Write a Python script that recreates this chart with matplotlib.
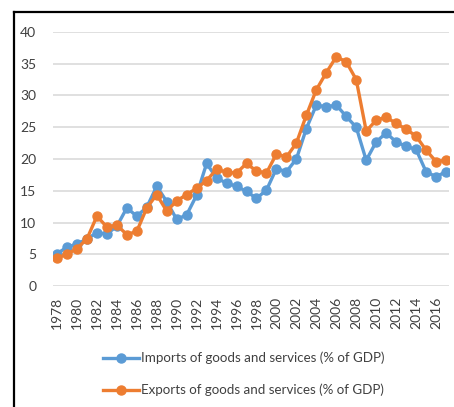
import matplotlib
matplotlib.use('Agg')
import matplotlib.pyplot as plt
from matplotlib.lines import Line2D

plt.rcParams['font.family'] = ['Lato', 'DejaVu Sans']

years = list(range(1978, 2018))
imports = [5.1, 6.1, 6.6, 7.4, 8.4, 8.2, 9.4, 12.3, 11.0, 12.4,
           15.7, 13.3, 10.5, 11.2, 14.3, 19.3, 17.0, 16.2, 15.7, 14.9,
           13.8, 15.1, 18.5, 18.0, 20.0, 24.8, 28.5, 28.2, 28.5, 26.7,
           25.0, 19.8, 22.7, 24.1, 22.7, 22.0, 21.5, 18.0, 17.2, 18.0]
exports = [4.4, 5.0, 5.9, 7.4, 11.0, 9.3, 9.6, 8.1, 8.6, 12.3,
           14.4, 11.8, 13.4, 14.4, 15.4, 16.6, 18.4, 17.9, 17.8, 19.3,
           18.1, 17.8, 20.8, 20.3, 22.5, 26.9, 30.9, 33.6, 36.1, 35.3,
           32.5, 24.4, 26.1, 26.6, 25.6, 24.7, 23.6, 21.4, 19.6, 19.8]
labels = ['Imports of goods and services (% of GDP)',
          'Exports of goods and services (% of GDP)']

text_color = '#404040'

fig = plt.figure(figsize=(4.54, 4.07), dpi=100)
ax = fig.add_axes([53 / 454, 1 - 286 / 407, 396 / 454, 254 / 407])

idx = list(range(len(years)))
ax.plot(idx, imports, '-o', color='#5B9BD5', lw=2.4, ms=6.5, label=labels[0], zorder=3)
ax.plot(idx, exports, '-o', color='#ED7D31', lw=2.4, ms=6.5, label=labels[1], zorder=4)

ax.set_ylim(0, 40)
ax.set_yticks(range(0, 41, 5))
ax.set_xlim(-0.4, 39.3)
ax.set_xticks(idx[::2])
ax.set_xticklabels([str(y) for y in years[::2]], rotation=90)
ax.grid(axis='y', color='#DADADA', lw=1.2)
ax.set_axisbelow(True)
for s in ax.spines.values():
    s.set_visible(False)
ax.tick_params(length=0, labelsize=10, colors=text_color)
ax.tick_params(axis='y', pad=12)
ax.tick_params(axis='x', pad=8)

# frame around the chart (left and top edges visible)
fig.add_artist(Line2D([14 / 454, 14 / 454], [0, 1 - 12 / 407],
                      transform=fig.transFigure, color='black', lw=1.6))
fig.add_artist(Line2D([14 / 454, 1], [1 - 12 / 407, 1 - 12 / 407],
                      transform=fig.transFigure, color='black', lw=1.6))

leg = fig.legend(loc='center', bbox_to_anchor=(0.537, 0.081), frameon=False,
                 fontsize=9.6, handlelength=2.7, handletextpad=0.2,
                 labelspacing=1.45)
for t in leg.get_texts():
    t.set_color(text_color)

fig.savefig('out.png', dpi=100)
